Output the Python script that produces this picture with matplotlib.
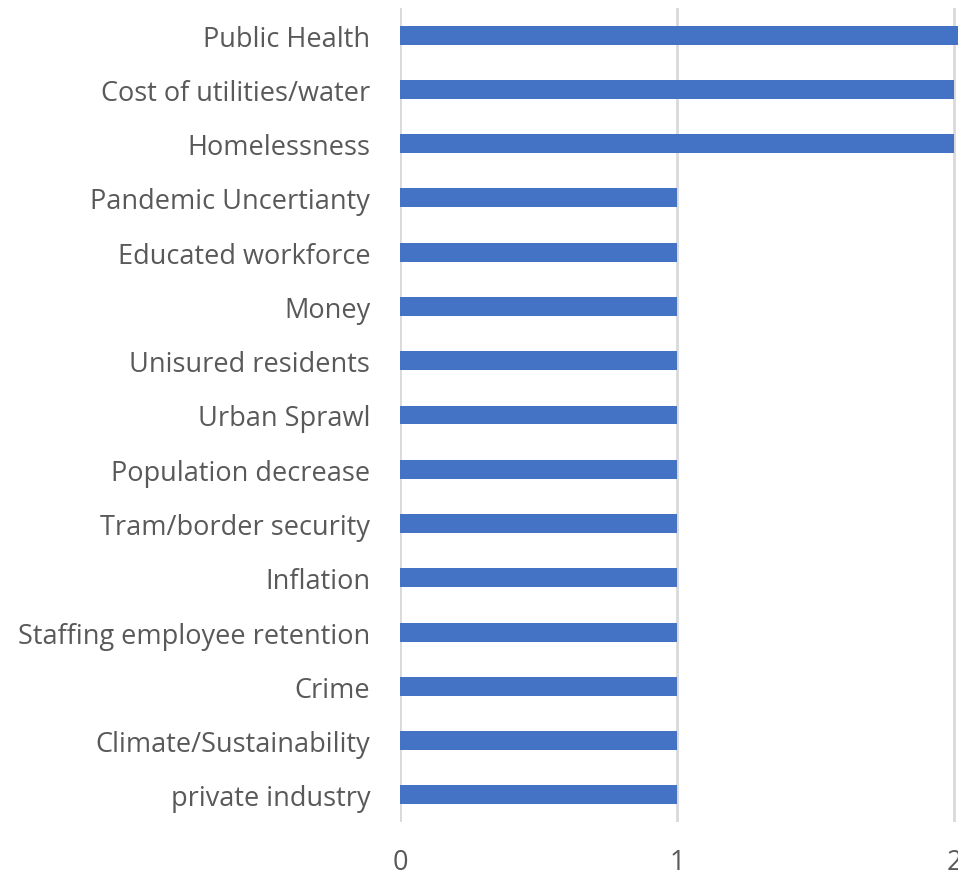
import matplotlib.pyplot as plt

categories = [
    "Public Health", "Cost of utilities/water", "Homelessness",
    "Pandemic Uncertianty", "Educated workforce", "Money",
    "Unisured residents", "Urban Sprawl", "Population decrease",
    "Tram/border security", "Inflation", "Staffing employee retention",
    "Crime", "Climate/Sustainability", "private industry",
]
counts = [3, 2, 2, 1, 1, 1, 1, 1, 1, 1, 1, 1, 1, 1, 1]
xticks = [0, 1, 2]

W, H = 958, 878
fig = plt.figure(figsize=(W / 100, H / 100), dpi=100)
ax = fig.add_axes([400 / W, (H - 823) / H, (W - 400) / W, 814 / H])

ypos = list(range(len(categories)))
ax.barh(ypos, counts, height=0.35, color="#4472C4", zorder=3)

ax.set_ylim(len(categories) - 0.5, -0.5)
ax.set_xlim(0, 2 + 4 / 277)
ax.set_yticks(ypos)
ax.set_yticklabels(categories, fontsize=19.5, color="#595959", family="Open Sans")
ax.set_xticks(xticks)
ax.set_xticklabels([str(t) for t in xticks], fontsize=19.5, color="#595959", family="Open Sans")
ax.tick_params(axis="y", length=0, pad=21.5)
ax.tick_params(axis="x", length=0, pad=19)
ax.grid(axis="x", color="#d9d9d9", linewidth=2, zorder=0)
for s in ax.spines.values():
    s.set_visible(False)

fig.savefig("out.png", dpi=100)
